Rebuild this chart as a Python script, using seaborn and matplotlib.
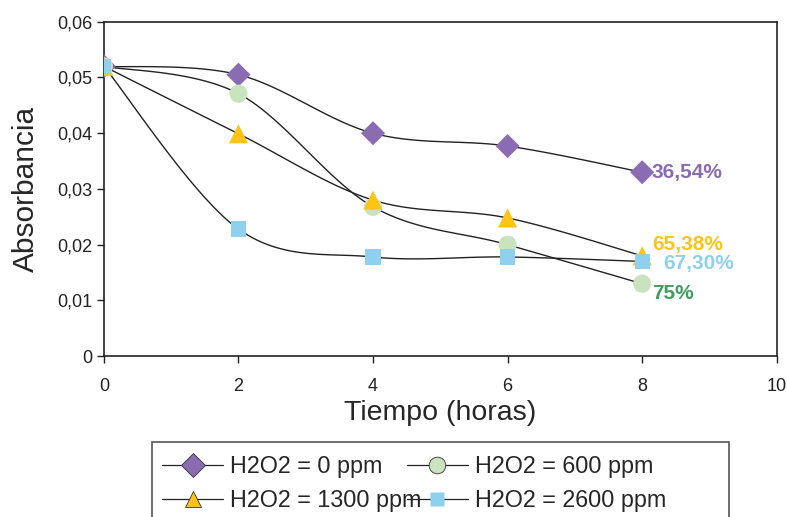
import numpy as np
import pandas as pd
import matplotlib
matplotlib.use("Agg")
import matplotlib.pyplot as plt
from matplotlib.lines import Line2D
from matplotlib.patches import Rectangle
import seaborn as sns

# data
tiempo = [0, 2, 4, 6, 8]
abs_0 = [0.052, 0.0505, 0.040, 0.0377, 0.033]
abs_600 = [0.052, 0.0471, 0.0268, 0.0200, 0.013]
abs_1300 = [0.052, 0.0399, 0.0280, 0.0248, 0.018]
abs_2600 = [0.052, 0.0228, 0.0178, 0.0178, 0.017]
series_names = ["H2O2 = 0 ppm", "H2O2 = 600 ppm", "H2O2 = 1300 ppm", "H2O2 = 2600 ppm"]
removal_labels = ["36,54%", "75%", "65,38%", "67,30%"]

colors = ["#8B6BB1", "#C8E3BD", "#FDC415", "#8ED0EE"]
text_colors = ["#8B6BB1", "#3E9E5F", "#FDC415", "#8ED0EE"]
markers = ["D", "o", "^", "s"]
msizes = [150, 170, 190, 120]
label_offsets = [(7, 0), (7, -7), (7, 8.5), (15, -1.5)]


def smooth(x, y, n=30):
    # Excel-style smoothed line (Catmull-Rom as cubic Bezier) through the points
    pts = np.column_stack([x, y]).astype(float)
    pts_ext = np.vstack([pts[0], pts, pts[-1]])
    out = []
    for i in range(1, len(pts_ext) - 2):
        p0, p1, p2, p3 = pts_ext[i - 1], pts_ext[i], pts_ext[i + 1], pts_ext[i + 2]
        b1 = p1 + (p2 - p0) / 6
        b2 = p2 - (p3 - p1) / 6
        t = np.linspace(0, 1, n)[:, None]
        seg = (1 - t) ** 3 * p1 + 3 * (1 - t) ** 2 * t * b1 + 3 * (1 - t) * t ** 2 * b2 + t ** 3 * p2
        out.append(seg if i == 1 else seg[1:])
    out = np.vstack(out)
    return out[:, 0], out[:, 1]


sns.set_style("white")
plt.rcParams["font.family"] = ["Liberation Sans", "DejaVu Sans"]

fig = plt.figure(figsize=(7.87, 5.17), dpi=100)
ax = fig.add_axes([0.132, 0.311, 0.855, 0.647])

all_series = [abs_0, abs_600, abs_1300, abs_2600]
for vals, col, mk, ms in zip(all_series, colors, markers, msizes):
    xs, ys = smooth(tiempo, vals)
    sns.lineplot(x=xs, y=ys, ax=ax, color="#222222", linewidth=1.0, sort=False, zorder=2)
    sns.scatterplot(x=tiempo, y=vals, ax=ax, color=col, marker=mk, s=ms,
                    edgecolor="none", linewidth=0, zorder=3)

for vals, lab, tcol, off in zip(all_series, removal_labels, text_colors, label_offsets):
    ax.annotate(lab, xy=(tiempo[-1], vals[-1]), xytext=off, textcoords="offset points",
                ha="left", va="center", fontsize=15, fontweight="bold", color=tcol)

ax.set_xlim(0, 10)
ax.set_ylim(0, 0.06)
ax.set_xticks([0, 2, 4, 6, 8, 10])
ax.set_yticks(np.arange(0, 0.061, 0.01))
ax.set_yticklabels(["0", "0,01", "0,02", "0,03", "0,04", "0,05", "0,06"])
ax.tick_params(axis="both", direction="out", length=5, width=1, labelsize=13,
               colors="#222222", left=True, bottom=True)
ax.tick_params(axis="x", pad=11)
for sp in ax.spines.values():
    sp.set_color("#222222")
    sp.set_linewidth(1.2)
ax.set_xlabel("Tiempo (horas)", fontsize=20.5, labelpad=3)
ax.set_ylabel("Absorbancia", fontsize=21.5, labelpad=12)

handles = [Line2D([0], [0], color="#222222", linewidth=0.9, marker=mk, markersize=12 if mk != "s" else 10,
                  markerfacecolor=col, markeredgecolor="#333333" if mk != "s" else "none",
                  markeredgewidth=0.6)
           for col, mk in zip(colors, markers)]
order = [0, 2, 1, 3]
leg = fig.legend([handles[i] for i in order], [series_names[i] for i in order],
                 loc="upper left", bbox_to_anchor=(0.196, 0.135), ncol=2, fontsize=16.8,
                 frameon=False, handlelength=2.6, columnspacing=-0.62, handletextpad=0.3,
                 labelspacing=0.47, borderpad=0.35, borderaxespad=0)

# legend box (runs past the bottom edge like the original)
fig.patches.append(Rectangle((0.193, -0.05), 0.733, 0.195, transform=fig.transFigure,
                             fill=False, edgecolor="#555555", linewidth=1.2, zorder=0))

fig.savefig("out.png", dpi=100)
